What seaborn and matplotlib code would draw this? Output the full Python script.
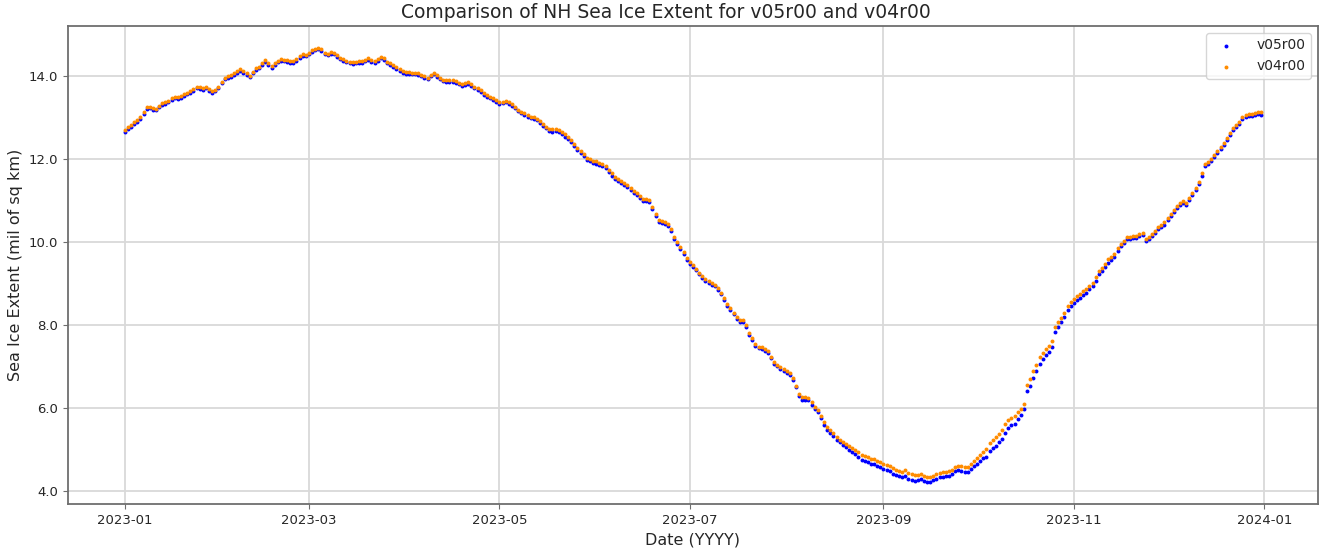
import numpy as np
import pandas as pd
import matplotlib
matplotlib.use("Agg")
import matplotlib.pyplot as plt
import matplotlib.dates as mdates
from matplotlib.ticker import MultipleLocator, FormatStrFormatter
import seaborn as sns

# Daily Northern Hemisphere sea ice extent, 2023 (million sq km), by month
v05_jan = [12.66, 12.72, 12.78, 12.84, 12.90, 12.97, 13.08, 13.20, 13.22, 13.18, 13.17, 13.24, 13.30, 13.32, 13.36, 13.42,
           13.46, 13.45, 13.48, 13.52, 13.56, 13.60, 13.64, 13.70, 13.68, 13.67, 13.70, 13.64, 13.60, 13.63, 13.70]
v05_feb = [13.82, 13.92, 13.96, 13.98, 14.02, 14.07, 14.12, 14.08, 14.02, 13.97, 14.06, 14.14, 14.18, 14.26, 14.34, 14.26,
           14.20, 14.26, 14.33, 14.37, 14.35, 14.34, 14.32, 14.31, 14.36, 14.44, 14.48, 14.47]
v05_mar = [14.52, 14.58, 14.63, 14.65, 14.60, 14.52, 14.50, 14.53, 14.52, 14.46, 14.40, 14.36, 14.33, 14.30, 14.29, 14.30,
           14.32, 14.32, 14.35, 14.38, 14.34, 14.31, 14.37, 14.42, 14.38, 14.30, 14.26, 14.22, 14.17, 14.13, 14.08]
v05_apr = [14.05, 14.05, 14.04, 14.04, 14.03, 13.99, 13.95, 13.92, 13.99, 14.04, 13.98, 13.92, 13.87, 13.86, 13.86, 13.85,
           13.84, 13.80, 13.76, 13.78, 13.81, 13.76, 13.70, 13.67, 13.61, 13.55, 13.50, 13.46, 13.42, 13.37]
v05_may = [13.33, 13.34, 13.36, 13.32, 13.28, 13.22, 13.15, 13.10, 13.06, 13.01, 12.98, 12.96, 12.93, 12.87, 12.80, 12.74,
           12.67, 12.66, 12.67, 12.65, 12.60, 12.54, 12.49, 12.40, 12.30, 12.22, 12.15, 12.07, 11.98, 11.94, 11.91]
v05_jun = [11.89, 11.86, 11.82, 11.78, 11.68, 11.60, 11.52, 11.46, 11.42, 11.38, 11.32, 11.26, 11.18, 11.12, 11.05, 10.98,
           10.98, 10.96, 10.80, 10.62, 10.47, 10.46, 10.44, 10.38, 10.26, 10.06, 9.96, 9.84, 9.70, 9.56]
v05_jul = [9.48, 9.40, 9.32, 9.22, 9.14, 9.07, 9.02, 8.97, 8.93, 8.84, 8.74, 8.60, 8.46, 8.36, 8.26, 8.14,
           8.08, 8.07, 7.96, 7.76, 7.64, 7.50, 7.44, 7.42, 7.38, 7.33, 7.20, 7.06, 7.00, 6.94, 6.89]
v05_aug = [6.84, 6.80, 6.68, 6.50, 6.28, 6.20, 6.20, 6.19, 6.08, 5.97, 5.90, 5.75, 5.60, 5.48, 5.40, 5.33,
           5.24, 5.18, 5.10, 5.05, 4.99, 4.93, 4.89, 4.82, 4.74, 4.72, 4.70, 4.66, 4.65, 4.61, 4.57]
v05_sep = [4.54, 4.51, 4.48, 4.42, 4.38, 4.36, 4.33, 4.37, 4.30, 4.27, 4.25, 4.27, 4.28, 4.23, 4.21, 4.22,
           4.26, 4.30, 4.33, 4.34, 4.35, 4.37, 4.40, 4.47, 4.50, 4.49, 4.46, 4.45, 4.52, 4.60]
v05_oct = [4.66, 4.73, 4.80, 4.82, 4.96, 5.03, 5.09, 5.17, 5.25, 5.40, 5.52, 5.58, 5.62, 5.74, 5.84, 5.98,
           6.40, 6.52, 6.72, 6.88, 7.06, 7.18, 7.28, 7.36, 7.46, 7.82, 7.96, 8.06, 8.20, 8.36, 8.46]
v05_nov = [8.54, 8.60, 8.66, 8.72, 8.78, 8.86, 8.93, 9.06, 9.22, 9.30, 9.40, 9.50, 9.56, 9.63, 9.78, 9.90,
           9.98, 10.06, 10.08, 10.10, 10.10, 10.14, 10.16, 10.03, 10.06, 10.14, 10.22, 10.31, 10.36, 10.42]
v05_dec = [10.52, 10.62, 10.72, 10.82, 10.88, 10.94, 10.88, 11.02, 11.14, 11.26, 11.40, 11.60, 11.82, 11.88, 11.94, 12.05,
           12.14, 12.24, 12.34, 12.46, 12.58, 12.70, 12.76, 12.84, 12.96, 13.02, 13.03, 13.04, 13.06, 13.08, 13.07]

v04_jan = [12.70, 12.77, 12.82, 12.88, 12.94, 13.01, 13.12, 13.24, 13.26, 13.22, 13.21, 13.28, 13.34, 13.36, 13.40, 13.46,
           13.50, 13.49, 13.52, 13.56, 13.60, 13.64, 13.68, 13.74, 13.73, 13.71, 13.74, 13.68, 13.64, 13.67, 13.74]
v04_feb = [13.86, 13.96, 14.00, 14.03, 14.06, 14.11, 14.16, 14.12, 14.06, 14.01, 14.10, 14.18, 14.22, 14.30, 14.38, 14.30,
           14.24, 14.30, 14.37, 14.41, 14.39, 14.38, 14.36, 14.35, 14.40, 14.48, 14.52, 14.51]
v04_mar = [14.56, 14.62, 14.66, 14.68, 14.64, 14.56, 14.54, 14.57, 14.56, 14.50, 14.44, 14.40, 14.37, 14.34, 14.33, 14.34,
           14.36, 14.36, 14.39, 14.42, 14.38, 14.35, 14.41, 14.46, 14.42, 14.34, 14.30, 14.26, 14.21, 14.17, 14.12]
v04_apr = [14.09, 14.09, 14.08, 14.08, 14.07, 14.03, 13.99, 13.96, 14.03, 14.08, 14.02, 13.96, 13.91, 13.90, 13.90, 13.89,
           13.88, 13.84, 13.80, 13.82, 13.85, 13.80, 13.74, 13.71, 13.65, 13.59, 13.54, 13.50, 13.46, 13.41]
v04_may = [13.37, 13.38, 13.40, 13.36, 13.32, 13.26, 13.19, 13.14, 13.10, 13.05, 13.02, 13.00, 12.97, 12.91, 12.84, 12.78,
           12.72, 12.71, 12.72, 12.70, 12.65, 12.59, 12.54, 12.45, 12.35, 12.27, 12.20, 12.12, 12.03, 11.99, 11.96]
v04_jun = [11.94, 11.91, 11.87, 11.83, 11.73, 11.65, 11.57, 11.51, 11.47, 11.43, 11.37, 11.31, 11.23, 11.17, 11.10, 11.03,
           11.03, 11.01, 10.85, 10.67, 10.52, 10.51, 10.49, 10.43, 10.31, 10.11, 10.01, 9.89, 9.75, 9.61]
v04_jul = [9.52, 9.44, 9.36, 9.26, 9.18, 9.11, 9.06, 9.01, 8.97, 8.88, 8.78, 8.64, 8.50, 8.40, 8.30, 8.18,
           8.12, 8.11, 8.00, 7.80, 7.68, 7.54, 7.48, 7.46, 7.42, 7.37, 7.24, 7.10, 7.04, 6.98, 6.93]
v04_aug = [6.88, 6.84, 6.72, 6.54, 6.34, 6.26, 6.26, 6.25, 6.14, 6.03, 5.96, 5.81, 5.66, 5.54, 5.46, 5.39,
           5.30, 5.24, 5.17, 5.13, 5.08, 5.03, 4.99, 4.93, 4.86, 4.84, 4.82, 4.78, 4.77, 4.73, 4.69]
v04_sep = [4.66, 4.63, 4.60, 4.55, 4.51, 4.49, 4.46, 4.50, 4.43, 4.40, 4.38, 4.39, 4.40, 4.35, 4.33, 4.34,
           4.37, 4.41, 4.44, 4.45, 4.46, 4.48, 4.51, 4.58, 4.61, 4.60, 4.57, 4.57, 4.64, 4.72]
v04_oct = [4.79, 4.86, 4.94, 5.00, 5.16, 5.24, 5.30, 5.38, 5.47, 5.62, 5.72, 5.76, 5.80, 5.90, 5.98, 6.10,
           6.56, 6.70, 6.88, 7.04, 7.22, 7.32, 7.42, 7.50, 7.62, 7.96, 8.08, 8.16, 8.30, 8.46, 8.56]
v04_nov = [8.63, 8.69, 8.75, 8.81, 8.87, 8.95, 9.02, 9.15, 9.30, 9.38, 9.48, 9.58, 9.64, 9.71, 9.85, 9.96,
           10.03, 10.11, 10.13, 10.15, 10.15, 10.19, 10.21, 10.08, 10.11, 10.19, 10.27, 10.36, 10.41, 10.47]
v04_dec = [10.57, 10.67, 10.77, 10.87, 10.93, 10.99, 10.94, 11.07, 11.19, 11.31, 11.45, 11.65, 11.87, 11.93, 11.99, 12.10,
           12.19, 12.29, 12.39, 12.51, 12.63, 12.75, 12.81, 12.89, 13.01, 13.07, 13.08, 13.09, 13.11, 13.13, 13.12]

series_labels = ["v05r00", "v04r00"]
series_colors = ["blue", "darkorange"]

v05 = (v05_jan + v05_feb + v05_mar + v05_apr + v05_may + v05_jun +
       v05_jul + v05_aug + v05_sep + v05_oct + v05_nov + v05_dec)
v04 = (v04_jan + v04_feb + v04_mar + v04_apr + v04_may + v04_jun +
       v04_jul + v04_aug + v04_sep + v04_oct + v04_nov + v04_dec)

dates = pd.date_range("2023-01-01", "2023-12-31", freq="D")
df = pd.DataFrame({"date": dates, series_labels[0]: v05, series_labels[1]: v04})

sns.set_style("ticks", {
    "axes.grid": True,
    "grid.color": "#d9d9d9",
    "axes.edgecolor": "#6e6e6e",
})
plt.rcParams["font.family"] = ["DejaVu Sans"]
plt.rcParams["grid.linewidth"] = 1.3
plt.rcParams["axes.linewidth"] = 1.3

fig, ax = plt.subplots(figsize=(13.25, 5.48), dpi=100)
fig.subplots_adjust(left=0.0513, right=0.9947, top=0.9526, bottom=0.0803)

for label, color in zip(series_labels, series_colors):
    sns.scatterplot(data=df, x="date", y=label, ax=ax, color=color, s=8,
                    linewidth=0, label=label)

ax.xaxis.set_major_locator(mdates.MonthLocator(bymonth=[1, 3, 5, 7, 9, 11]))
ax.xaxis.set_major_formatter(mdates.DateFormatter("%Y-%m"))
ax.yaxis.set_major_locator(MultipleLocator(2.0))
ax.yaxis.set_major_formatter(FormatStrFormatter("%.1f"))
ax.margins(x=0.05, y=0.05)

ax.tick_params(axis="both", labelsize=9.5, length=3.5, color="#6e6e6e")
ax.set_xlabel("Date (YYYY)", fontsize=11.5)
ax.set_ylabel("Sea Ice Extent (mil of sq km)", fontsize=11.5)
ax.set_title("Comparison of NH Sea Ice Extent for v05r00 and v04r00",
             fontsize=13.5, x=0.478)
for spine in ax.spines.values():
    spine.set_visible(True)

ax.legend(loc="upper right", fontsize=10, markerscale=1.0, handletextpad=1.2,
          frameon=True)

fig.savefig("out.png", dpi=100)
